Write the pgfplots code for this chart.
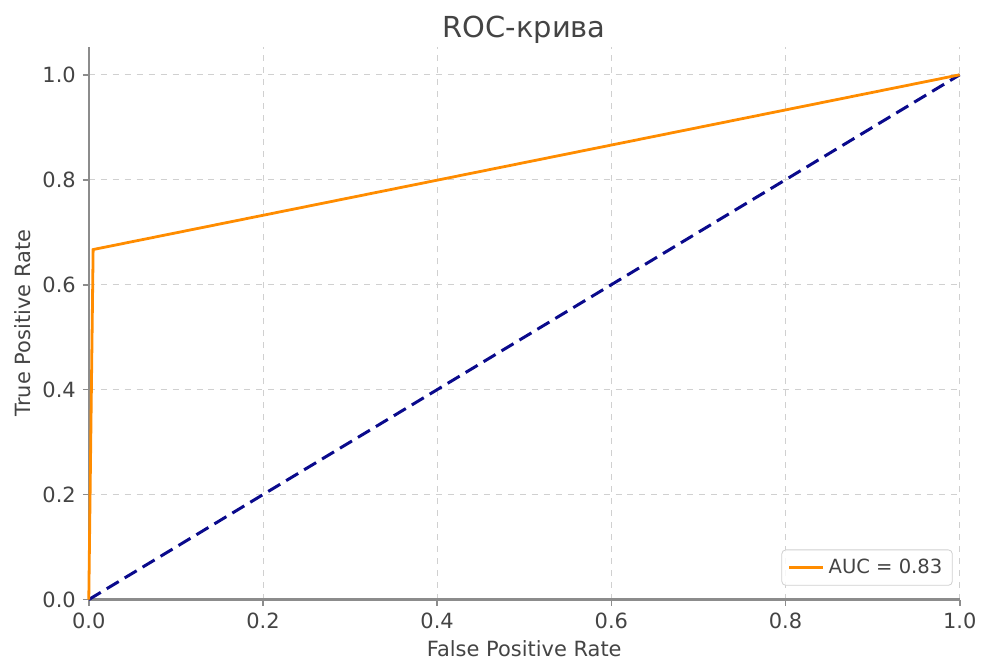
\documentclass[border=0pt]{standalone}
\usepackage{fontspec}
\setmainfont{DejaVu Sans}
\usepackage{pgfplots}
\pgfplotsset{compat=1.18}

\definecolor{txt}{HTML}{444444}
\definecolor{spine}{HTML}{8C8C8C}
\definecolor{gridc}{HTML}{D0D0D0}
\definecolor{roc}{RGB}{255,140,0}
\definecolor{diag}{RGB}{10,10,140}

\begin{document}
\begin{tikzpicture}
\begin{axis}[
    scale only axis,
    width=436.5pt, height=277pt,
    xmin=0, xmax=1,
    ymin=0, ymax=1.0532,
    axis lines=left,
    axis line style={spine, line width=1.1pt, -},
    xtick={0,0.2,0.4,0.6,0.8,1.0},
    ytick={0,0.2,0.4,0.6,0.8,1.0},
    xticklabel style={/pgf/number format/.cd, fixed, fixed zerofill, precision=1},
    yticklabel style={/pgf/number format/.cd, fixed, fixed zerofill, precision=1},
    /pgf/number format/assume math mode=true,
    tick style={spine, line width=0.8pt},
    tick align=outside,
    major tick length=3pt,
    ticklabel style={font=\fontsize{10.5}{12}\selectfont, text=txt},
    grid=major,
    major grid style={gridc, dashed, line width=0.45pt},
    xlabel={False Positive Rate},
    ylabel={True Positive Rate},
    label style={font=\fontsize{10.5}{12}\selectfont, text=txt},
    xlabel style={yshift=1pt},
    ylabel style={yshift=-1pt},
    title={ROC-крива},
    title style={font=\fontsize{14.5}{16}\selectfont, text=txt, yshift=-8pt},
    legend style={font=\fontsize{9.8}{12}\selectfont, text=txt, draw=gridc, rounded corners=2pt,
        fill=white, fill opacity=0.85, text opacity=1, inner xsep=3pt, inner ysep=2.5pt,
        at={(0.992,0.025)}, anchor=south east},
    legend cell align=left,
    legend image post style={line width=1.4pt},
    clip=false,
]
\addplot[diag, line width=1.5pt, dash pattern=on 7pt off 3.5pt, forget plot] coordinates {(0,0) (1,1)};
\addplot[roc, line width=1.4pt] coordinates {(0,0) (0.005,0.667) (1,1)};
\addlegendentry{AUC = 0.83}
\end{axis}
\path[use as bounding box] (-44.5pt,-30pt) rectangle (447pt,300.5pt);
\end{tikzpicture}
\end{document}
